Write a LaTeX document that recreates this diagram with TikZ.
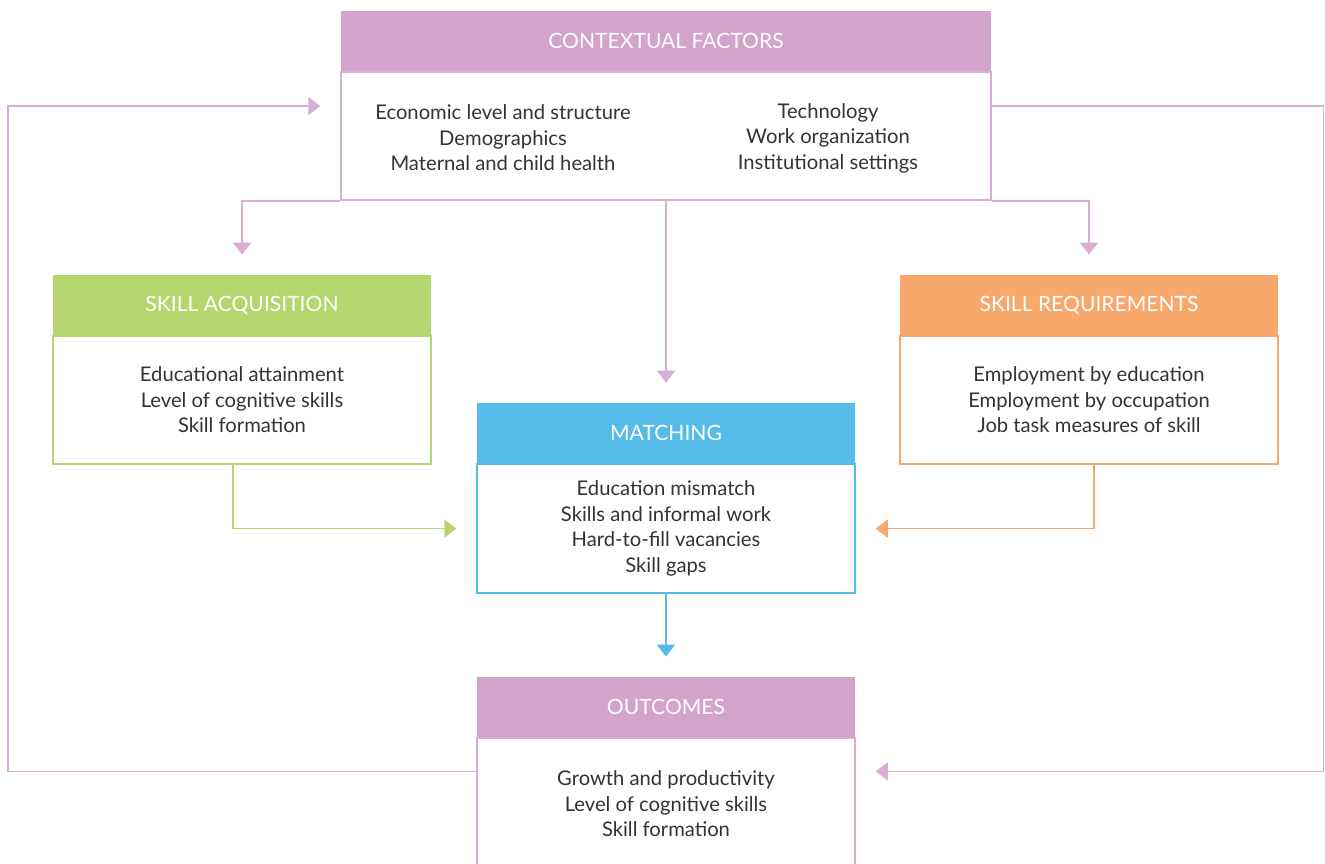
\documentclass[tikz,border=0pt]{standalone}
\usepackage{fontspec}
\setmainfont{Lato}
\usepackage{tikz}
\usetikzlibrary{positioning,arrows.meta}

\definecolor{ctxpink}{HTML}{D4A3C9}
\definecolor{linkpink}{HTML}{D9AED2}
\definecolor{acqgreen}{HTML}{B5D66F}
\definecolor{reqorange}{HTML}{F8A86A}
\definecolor{matchblue}{HTML}{55BBE9}
\definecolor{txtgray}{HTML}{333333}

\begin{document}
\begin{tikzpicture}[
    hdr/.style={rectangle, minimum height=1.2cm, text=white, font=\fontsize{12pt}{14pt}\selectfont, inner sep=0pt},
    bodybox/.style={draw, rectangle, line width=0.85pt, fill=white, inner sep=0pt, text=txtgray, align=center, font=\fontsize{11.5pt}{14.5pt}\selectfont},
    flow/.style={line width=0.85pt, -{Triangle[length=0.24cm, width=0.36cm]}, shorten >=0.4cm}
  ]

  \useasboundingbox (0,0) rectangle (26.5,-17.26);

  % Contextual factors

  \node[hdr, fill=ctxpink, minimum width=13cm] (ctxhead) at (13.32,-0.82) {\raisebox{-1pt}{CONTEXTUAL FACTORS}};
  \node[bodybox, draw=linkpink, minimum width=13cm, minimum height=2.56cm, below=0mm of ctxhead] (ctxbody) {};
  \node[text=txtgray, align=center, font=\fontsize{11.5pt}{14.5pt}\selectfont] at (10.06,-2.76) {Economic level and structure \\ Demographics \\ Maternal and child health};
  \node[text=txtgray, align=center, font=\fontsize{11.5pt}{14.5pt}\selectfont] at (16.56,-2.76) {Technology \\ Work organization \\ Institutional settings};

  % Skill acquisition

  \node[hdr, fill=acqgreen, minimum width=7.56cm] (acqhead) at (4.84,-6.1) {\raisebox{-1pt}{SKILL ACQUISITION}};
  \node[bodybox, draw=acqgreen, minimum width=7.56cm, minimum height=2.56cm, below=0mm of acqhead] (acqbody) {Educational attainment \\ Level of cognitive skills \\ Skill formation};

  % Skill requirements

  \node[hdr, fill=reqorange, minimum width=7.56cm] (reqhead) at (21.78,-6.1) {\raisebox{-1pt}{SKILL REQUIREMENTS}};
  \node[bodybox, draw=reqorange, minimum width=7.56cm, minimum height=2.56cm, below=0mm of reqhead] (reqbody) {Employment by education \\ Employment by occupation \\ Job task measures of skill};

  % Matching

  \node[hdr, fill=matchblue, minimum width=7.56cm] (matchhead) at (13.32,-8.66) {\raisebox{-1pt}{MATCHING}};
  \node[bodybox, draw=matchblue, minimum width=7.56cm, minimum height=2.58cm, below=0mm of matchhead] (matchbody) {Education mismatch \\ Skills and informal work \\ Hard-to-fill vacancies \\ Skill gaps};

  % Outcomes

  \node[hdr, fill=ctxpink, minimum width=7.56cm] (outhead) at (13.32,-14.14) {\raisebox{-1pt}{OUTCOMES}};
  \node[bodybox, draw=linkpink, minimum width=7.56cm, minimum height=3.4cm, below=0mm of outhead] (outbody) {};
  \node[text=txtgray, align=center, font=\fontsize{11.5pt}{14.5pt}\selectfont, below=0.55cm of outhead] (outtext) {Growth and productivity \\ Level of cognitive skills \\ Skill formation};

  % Links

  \coordinate (loopL) at (0.16,-10);
  \coordinate (loopR) at (26.47,-10);

  \draw[flow, linkpink] (ctxbody.south) -- (matchhead.north);
  \draw[flow, linkpink] (ctxbody.south west) -| (acqhead.north);
  \draw[flow, linkpink] (ctxbody.south east) -| (reqhead.north);
  \draw[flow, acqgreen] ([xshift=-0.18cm]acqbody.south) |- (matchbody.west);
  \draw[flow, reqorange] ([xshift=0.1cm]reqbody.south) |- (matchbody.east);
  \draw[flow, matchblue] (matchbody.south) -- (outhead.north);
  \draw[flow, linkpink] ([yshift=-0.68cm]outbody.north west) -| (loopL) |- ([yshift=0.6cm]ctxbody.west);
  \draw[flow, linkpink] ([yshift=0.6cm]ctxbody.east) -| (loopR) |- ([yshift=-0.68cm]outbody.north east);

\end{tikzpicture}
\end{document}
